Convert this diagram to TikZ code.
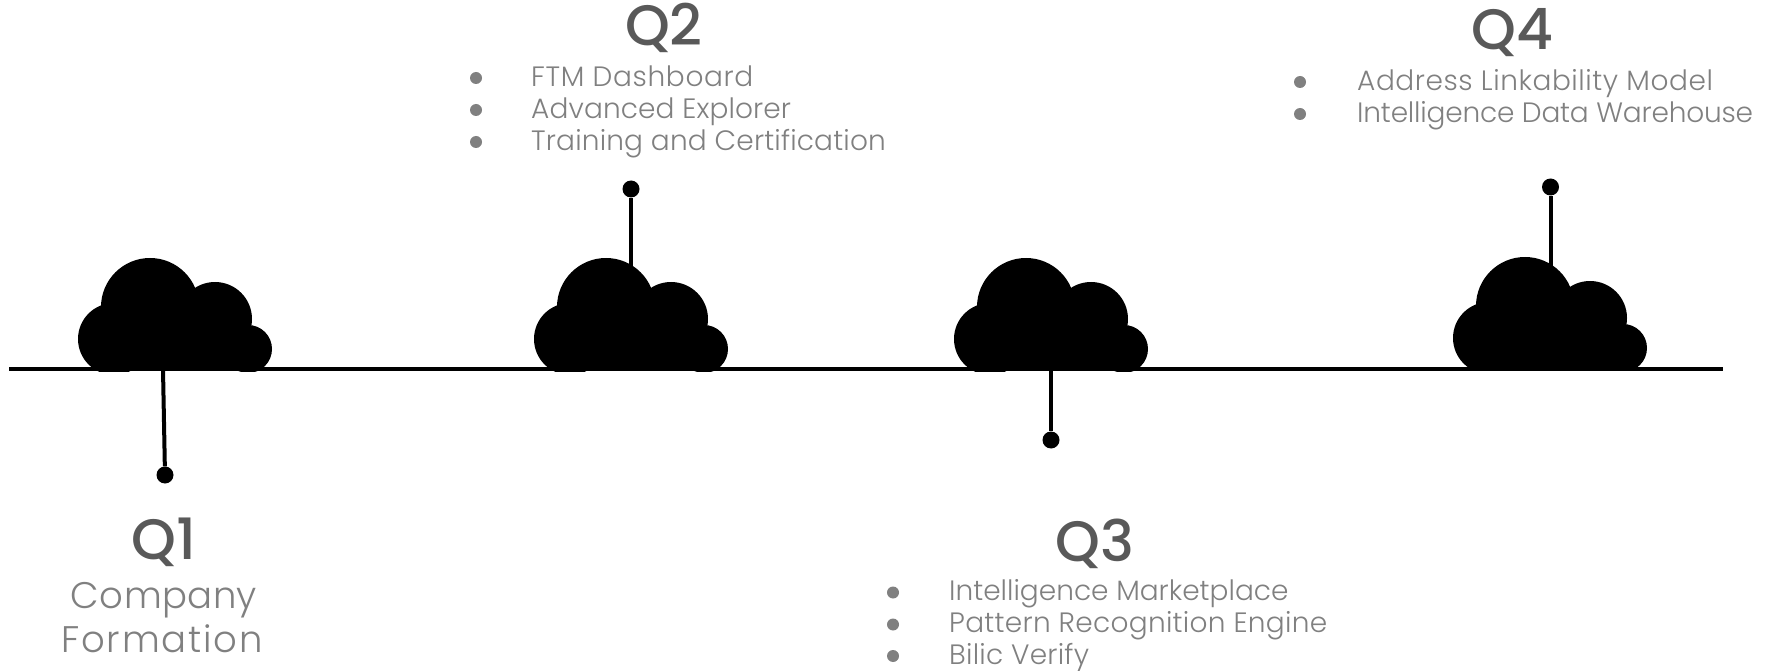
\documentclass[tikz,border=0pt]{standalone}
\usepackage{fontspec}
\setmainfont{Poppins}[UprightFont=* Light]
\newfontfamily\titlefont{Poppins}[UprightFont=* Medium]
\definecolor{titlegray}{HTML}{595959}
\definecolor{itemgray}{HTML}{808080}
\newcommand{\cloudat}[2]{%
  \begin{scope}[shift={(#1,#2)}]
    \clip (60,240) rectangle (290,371);
    \fill[black] (150,307) circle[radius=49];
    \fill[black] (215,319) circle[radius=37];
    \fill[black] (114,339) circle[radius=36];
    \fill[black] (248,349) circle[radius=24];
    \fill[black] (114,330) rectangle (249,371);
  \end{scope}}
\newcommand{\ls}[2]{\addfontfeature{LetterSpace=#1}#2}
\tikzset{
  titletext/.style={font=\titlefont\fontsize{57}{57}\selectfont,text=titlegray,inner sep=0pt,anchor=base},
  itemtext/.style={font=\fontsize{28}{28}\selectfont,text=itemgray,inner sep=0pt,anchor=base west},
  subtext/.style={font=\fontsize{37}{37}\selectfont,text=itemgray,inner sep=0pt,anchor=base},
  bulletdot/.style={circle,fill=itemgray,inner sep=0pt,minimum size=12pt},
  enddot/.style={circle,fill=black,inner sep=0pt,minimum size=17pt},
  stem/.style={line width=4pt,black},
  axisline/.style={line width=4.4pt,black}
}
\begin{document}
\begin{tikzpicture}[x=1pt,y=-1pt]
\useasboundingbox (0,0) rectangle (1773,671);
\coordinate (la) at (9,369);
\coordinate (lb) at (1723,369);
\draw[axisline] (la) -- (lb);
\coordinate (s1) at (163,369);
\coordinate (s2) at (631,285);
\coordinate (s3) at (1051,369);
\coordinate (s4) at (1550.5,285);
\node[enddot] (d1) at (165,475) {};
\node[enddot] (d2) at (631,189) {};
\node[enddot] (d3) at (1051,440) {};
\node[enddot] (d4) at (1550.5,187) {};
\draw[stem] (s1) -- (d1);
\draw[stem] (s2) -- (d2);
\draw[stem] (s3) -- (d3);
\draw[stem] (s4) -- (d4);
\cloudat{0}{0}
\cloudat{456}{0}
\cloudat{876}{0}
\cloudat{1375}{-1}
\node[titletext] (q1) at (164,559) {Q1};
\node[subtext] (q1a) at (164,608) {\ls{1.1}{Company}};
\node[subtext] (q1b) at (162,652) {\ls{4.8}{Formation}};
\node[titletext] (q2) at (664,46) {Q2};
\node[bulletdot] (b21) at (476,78) {};
\node[bulletdot] (b22) at (476,110) {};
\node[bulletdot] (b23) at (476,142) {};
\node[itemtext] (t21) at (531,86.5) {\ls{2.3}{FTM Dashboard}};
\node[itemtext] (t22) at (531,118.5) {\ls{0.4}{Advanced Explorer}};
\node[itemtext] (t23) at (531,150.5) {\ls{0.6}{Training and Certification}};
\node[titletext] (q3) at (1095,561) {Q3};
\node[bulletdot] (b31) at (893,592.5) {};
\node[bulletdot] (b32) at (893,624.5) {};
\node[bulletdot] (b33) at (893,656) {};
\node[itemtext] (t31) at (949,600) {Intelligence Marketplace};
\node[itemtext] (t32) at (949,632) {\ls{1}{Pattern Recognition Engine}};
\node[itemtext] (t33) at (949,664) {\ls{0.8}{Bilic Verify}};
\node[titletext] (q4) at (1512,50) {Q4};
\node[bulletdot] (b41) at (1300,82) {};
\node[bulletdot] (b42) at (1300,114) {};
\node[itemtext] (t41) at (1357,90.5) {\ls{2}{Address Linkability Model}};
\node[itemtext] (t42) at (1357,122.5) {\ls{-0.7}{Intelligence Data Warehouse}};
\end{tikzpicture}
\end{document}
